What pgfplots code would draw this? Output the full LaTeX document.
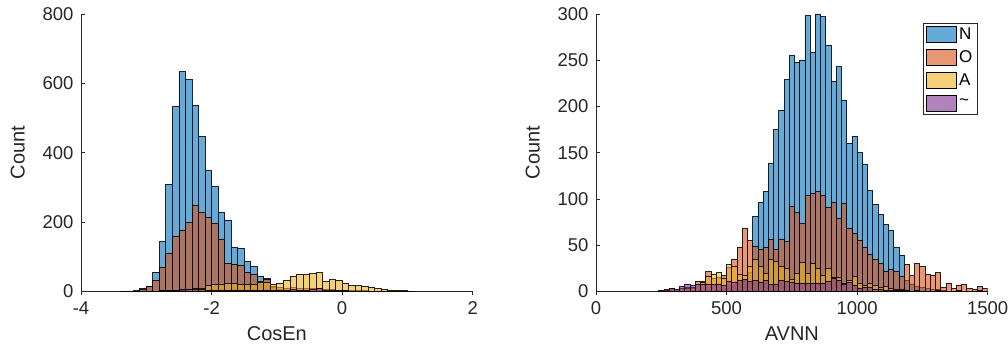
\documentclass[border=0pt]{standalone}
\usepackage{pgfplots}
\pgfplotsset{compat=1.18}
\usepackage{fontspec}
\setmainfont{Liberation Sans}
\definecolor{cN}{rgb}{0,0.447,0.741}
\definecolor{cO}{rgb}{0.850,0.325,0.098}
\definecolor{cA}{rgb}{0.929,0.694,0.125}
\definecolor{cT}{rgb}{0.494,0.184,0.556}
\definecolor{axgray}{rgb}{0.15,0.15,0.15}
\pgfplotsset{
  mystyle/.style={
    scale only axis, anchor=south west,
    width=391.7pt, height=277.3pt,
    axis x line*=bottom, axis y line*=left,
    tick align=inside, major tick length=4pt,
    axis line style={axgray, line width=0.6pt},
    tick style={axgray, line width=0.6pt},
    ticklabel style={font=\fontsize{18.5}{20}\selectfont, text=axgray},
    yticklabel style={xshift=-4pt},
    xticklabel style={yshift=-3pt},
    label style={font=\fontsize{20}{22}\selectfont, text=axgray},
    ylabel style={yshift=11pt},
    xlabel style={yshift=-5pt},
    /pgf/number format/assume math mode=true,
    /pgf/number format/1000 sep={},
    enlargelimits=false, ymin=0,
    ybar, bar shift=0pt,
  },
  hN/.style={fill=cN, fill opacity=0.6, draw=black, draw opacity=0.85, line width=0.8pt, forget plot},
  hO/.style={fill=cO, fill opacity=0.6, draw=black, draw opacity=0.85, line width=0.8pt, forget plot},
  hA/.style={fill=cA, fill opacity=0.6, draw=black, draw opacity=0.85, line width=0.8pt, forget plot},
  hT/.style={fill=cT, fill opacity=0.6, draw=black, draw opacity=0.85, line width=0.8pt, forget plot},
}
\begin{document}
\begin{tikzpicture}[x=1pt,y=1pt]
\useasboundingbox (0,0) rectangle (1008,350);
\begin{axis}[mystyle, at={(81pt,58.7pt)},
  xmin=-4, xmax=2, ymax=800, bar width=0.1,
  xtick={-4,-2,0,2}, ytick={0,200,400,600,800},
  xlabel={CosEn}, ylabel={Count}]
\addplot[hN] coordinates {(-3.35,1) (-3.25,1) (-3.15,2) (-3.05,8) (-2.95,15) (-2.85,55) (-2.75,143) (-2.65,309) (-2.55,532) (-2.45,634) (-2.35,611) (-2.25,536) (-2.15,448) (-2.05,348) (-1.95,302) (-1.85,228) (-1.75,205) (-1.65,127) (-1.55,124) (-1.45,87) (-1.35,72) (-1.25,43) (-1.15,37) (-1.05,12) (-0.95,6) (-0.85,4) (-0.75,3) (-0.65,2) (-0.55,2) (-0.45,1) (-0.35,1)};
\addplot[hO] coordinates {(-3.15,1) (-3.05,6) (-2.95,14) (-2.85,31) (-2.75,69) (-2.65,108) (-2.55,157) (-2.45,177) (-2.35,198) (-2.25,247) (-2.15,228) (-2.05,213) (-1.95,196) (-1.85,151) (-1.75,81) (-1.65,79) (-1.55,76) (-1.45,55) (-1.35,48) (-1.25,28) (-1.15,33) (-1.05,14) (-0.95,10) (-0.85,9) (-0.75,10) (-0.65,9) (-0.55,8) (-0.45,7) (-0.35,8) (-0.25,6) (-0.15,5) (-0.05,4) (0.05,3) (0.15,3) (0.25,2) (0.35,2) (0.45,1) (0.55,1) (0.65,1) (0.85,1)};
\addplot[hA] coordinates {(-2.85,1) (-2.75,2) (-2.65,2) (-2.55,3) (-2.45,4) (-2.35,6) (-2.25,7) (-2.15,9) (-2.05,16) (-1.95,19) (-1.85,21) (-1.75,23) (-1.65,24) (-1.55,21) (-1.45,20) (-1.35,21) (-1.25,27) (-1.15,25) (-1.05,21) (-0.95,23) (-0.85,30) (-0.75,43) (-0.65,49) (-0.55,48) (-0.45,51) (-0.35,54) (-0.25,28) (-0.15,33) (-0.05,32) (0.05,24) (0.15,18) (0.25,16) (0.35,15) (0.45,11) (0.55,7) (0.65,5) (0.75,4) (0.85,2) (0.95,3) (1.05,1)};
\addplot[hT] coordinates {(-2.75,2) (-2.65,3) (-2.55,4) (-2.45,5) (-2.35,5) (-2.25,5) (-2.15,5) (-2.05,4) (-1.95,4) (-1.85,4) (-1.75,4) (-1.65,4) (-1.55,4) (-1.45,3) (-1.35,4) (-1.25,3) (-1.15,4) (-1.05,3) (-0.95,3) (-0.85,4) (-0.75,5) (-0.65,4) (-0.55,4) (-0.45,5) (-0.35,7) (-0.25,3) (-0.15,3) (-0.05,2) (0.05,2) (0.15,1) (0.25,1)};
\end{axis}
\begin{axis}[mystyle, at={(596pt,58.7pt)},
  xmin=0, xmax=1500, ymax=300, bar width=20,
  xtick={0,500,1000,1500}, ytick={0,50,100,150,200,250,300},
  xlabel={AVNN}, ylabel={Count},
  legend style={at={(1,1)}, anchor=north east, xshift=-10pt, yshift=-9pt,
    draw=axgray, line width=0.6pt, font=\fontsize{17}{19}\selectfont, text=black,
    inner xsep=3pt, inner ysep=3pt, row sep=5.5pt, legend cell align=left},
  ]
\addplot[hN] coordinates {(470,1) (490,2) (510,3) (530,5) (550,8) (570,12) (590,20) (610,81) (630,96) (650,108) (670,138) (690,175) (710,196) (730,229) (750,255) (770,248) (790,250) (810,298) (830,258) (850,300) (870,297) (890,266) (910,227) (930,243) (950,207) (970,160) (990,168) (1010,150) (1030,137) (1050,109) (1070,94) (1090,83) (1110,72) (1130,66) (1150,47) (1170,39) (1190,12) (1210,8) (1230,5) (1250,4) (1270,3) (1290,2) (1310,2) (1330,1)};
\addplot[hO] coordinates {(270,1) (290,3) (310,2) (330,3) (350,4) (370,3) (390,11) (410,11) (430,21) (450,14) (470,15) (490,17) (510,26) (530,34) (550,48) (570,68) (590,55) (610,49) (630,45) (650,47) (670,56) (690,45) (710,56) (730,54) (750,92) (770,85) (790,73) (810,104) (830,106) (850,108) (870,104) (890,91) (910,96) (930,79) (950,95) (970,68) (990,63) (1010,55) (1030,48) (1050,40) (1070,34) (1090,30) (1110,22) (1130,24) (1150,21) (1170,16) (1190,29) (1210,17) (1230,30) (1250,27) (1270,18) (1290,17) (1310,20) (1330,4) (1350,9) (1370,3) (1390,6) (1410,7) (1430,3) (1450,2) (1470,5) (1490,3)};
\addplot[hA] coordinates {(350,3) (370,4) (390,8) (410,10) (430,16) (450,18) (470,20) (490,14) (510,29) (530,27) (550,18) (570,17) (590,27) (610,35) (630,27) (650,19) (670,35) (690,32) (710,27) (730,25) (750,13) (770,19) (790,31) (810,19) (830,30) (850,25) (870,17) (890,25) (910,15) (930,15) (950,9) (970,12) (990,16) (1010,9) (1030,6) (1050,9) (1070,6) (1090,4) (1110,5) (1130,3) (1150,2) (1170,2) (1190,1)};
\addplot[hT] coordinates {(250,1) (270,2) (290,3) (310,2) (330,5) (350,7) (370,6) (390,7) (410,8) (430,8) (450,8) (470,8) (490,6) (510,11) (530,10) (550,12) (570,13) (590,11) (610,12) (630,10) (650,12) (670,7) (690,8) (710,12) (730,11) (750,10) (770,9) (790,9) (810,9) (830,9) (850,9) (870,9) (890,11) (910,14) (930,12) (950,7) (970,10) (990,6) (1010,3) (1030,4) (1050,4) (1070,2) (1090,2) (1110,1) (1130,1) (1150,1) (1170,1) (1190,1) (1230,1) (1310,1) (1390,1) (1470,1)};
\addlegendimage{legend image code/.code={\draw[fill=cN, fill opacity=0.6, draw=black, line width=0.8pt] (0pt,-8pt) rectangle (30pt,8pt);}}
\addlegendentry{N}
\addlegendimage{legend image code/.code={\draw[fill=cO, fill opacity=0.6, draw=black, line width=0.8pt] (0pt,-8pt) rectangle (30pt,8pt);}}
\addlegendentry{O}
\addlegendimage{legend image code/.code={\draw[fill=cA, fill opacity=0.6, draw=black, line width=0.8pt] (0pt,-8pt) rectangle (30pt,8pt);}}
\addlegendentry{A}
\addlegendimage{legend image code/.code={\draw[fill=cT, fill opacity=0.6, draw=black, line width=0.8pt] (0pt,-8pt) rectangle (30pt,8pt);}}
\addlegendentry{\textasciitilde}
\end{axis}
\end{tikzpicture}
\end{document}
